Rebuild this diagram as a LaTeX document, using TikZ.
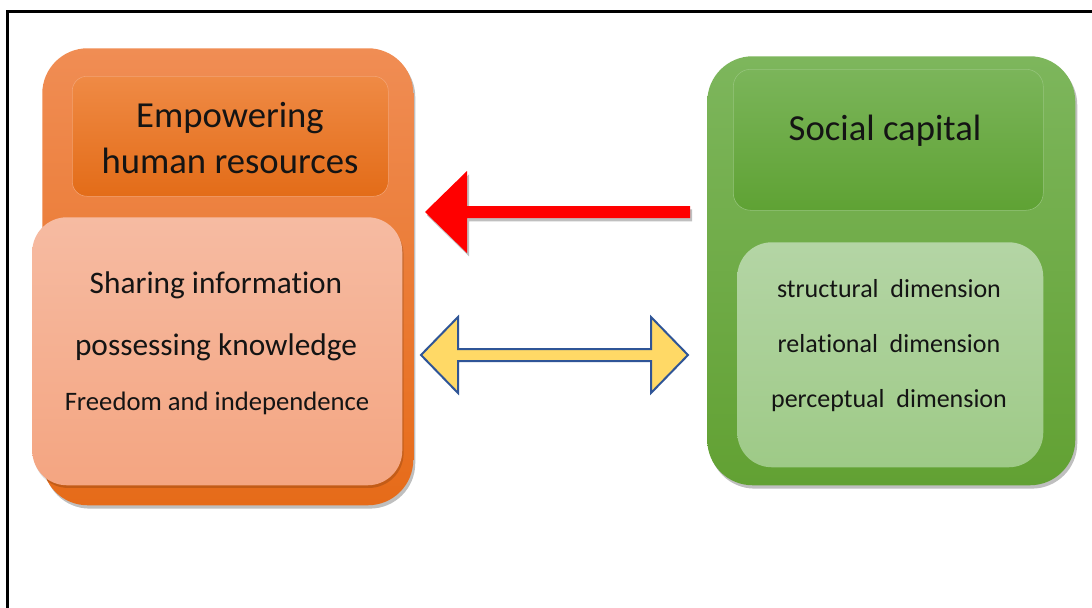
\documentclass[tikz,border=0pt]{standalone}
\usepackage{fontspec}
\setmainfont[Ligatures={NoCommon}]{Carlito}
\usetikzlibrary{calc,shadows}
\definecolor{oTop}{HTML}{F08D54}
\definecolor{oBot}{HTML}{E66B19}
\definecolor{otTop}{HTML}{EF8A45}
\definecolor{otBot}{HTML}{E36C18}
\definecolor{sTop}{HTML}{F6BBA2}
\definecolor{sBot}{HTML}{F4A581}
\definecolor{gTop}{HTML}{7DB65C}
\definecolor{gBot}{HTML}{62A133}
\definecolor{gtTop}{HTML}{7BB55A}
\definecolor{gtBot}{HTML}{5FA234}
\definecolor{glTop}{HTML}{B4D5A5}
\definecolor{glBot}{HTML}{9ECA87}
\definecolor{arrRed}{HTML}{FF0000}
\definecolor{arrYel}{HTML}{FFD966}
\definecolor{arrBlue}{HTML}{2F5597}
\definecolor{txtc}{HTML}{141414}
\tikzset{
  box/.style={rectangle, inner sep=0pt, anchor=north west},
  softshadow/.style={drop shadow={shadow xshift=1.5pt, shadow yshift=-2.5pt, opacity=0.25, fill=black}},
  lightshadow/.style={drop shadow={shadow xshift=1pt, shadow yshift=-2pt, opacity=0.15, fill=black}},
  txt/.style={anchor=base, inner sep=0pt, text=txtc},
  bigtxt/.style={txt, font=\fontsize{27.5pt}{32pt}\selectfont},
  midtxt/.style={txt, font=\fontsize{23.5pt}{28pt}\selectfont},
  smalltxt/.style={txt, font=\fontsize{19.5pt}{24pt}\selectfont},
  fredtxt/.style={txt, font=\fontsize{20pt}{24pt}\selectfont},
}
\begin{document}
\begin{tikzpicture}[x=0.75pt,y=-0.75pt]
\useasboundingbox (0,0) rectangle (1092,607);
\fill[white] (0,0) rectangle (1092,607);
% frame
\coordinate (fbl) at (7.5,620);
\coordinate (ftl) at (7.5,11.5);
\coordinate (ftr) at (1100,11.5);
\draw[line width=1.9pt, black] (fbl) -- (ftl) -- (ftr);

% orange group
\node[box, softshadow, rounded corners=34pt, minimum width=278.25pt, minimum height=342.75pt,
      top color=oTop, bottom color=oBot] (oOut) at (42,48) {};
\node[box, rounded corners=11pt, minimum width=237pt, minimum height=90pt,
      top color=otTop, bottom color=otBot, draw=oTop!80!white, line width=0.4pt] (oTitle) at (72,76) {};
\node[box, lightshadow, rounded corners=26pt, minimum width=277.5pt, minimum height=201pt,
      top color=sTop, bottom color=sBot] (oLow) at (32,217) {};

\node[bigtxt] (t1) at (230,127) {Empowering};
\node[bigtxt] (t2) at (230,173) {human resources};
\node[midtxt] (t3) at (216,293) {Sharing information};
\node[midtxt] (t4) at (216,355) {possessing knowledge};
\node[fredtxt] (t5) at (217,410) {Freedom and independence};

% green group
\node[box, softshadow, rounded corners=34pt, minimum width=276pt, minimum height=321.75pt,
      top color=gTop, bottom color=gBot] (gOut) at (707,56) {};
\node[box, rounded corners=13pt, minimum width=232.5pt, minimum height=105.75pt,
      top color=gtTop, bottom color=gtBot, draw=gTop!80!white, line width=0.4pt] (gTitle) at (733,69) {};
\node[box, rounded corners=26pt, minimum width=229.5pt, minimum height=168.75pt,
      top color=glTop, bottom color=glBot] (gLow) at (737,242) {};

\node[bigtxt] (g1) at (885,140) {Social capital};
\node[smalltxt] (g2) at (889,297) {structural\ \ dimension};
\node[smalltxt] (g3) at (889,352) {relational\ \ dimension};
\node[smalltxt] (g4) at (889,407) {perceptual\ \ dimension};

% red arrow (from social capital to empowering)
\coordinate (rtip) at (425,212);
\coordinate (rtail) at (690,212);
\fill[arrRed, softshadow]
  (rtip) -- ($(rtip)+(42,-41)$) -- ($(rtip)+(42,-6)$) -- ($(rtail)+(0,-6)$)
  -- ($(rtail)+(0,6)$) -- ($(rtip)+(42,6)$) -- ($(rtip)+(42,41)$) -- cycle;

% yellow double arrow
\coordinate (ytipL) at (421,355);
\coordinate (ytipR) at (688,355);
\draw[fill=arrYel, draw=arrBlue, line width=1.5pt, line join=miter]
  (ytipL) -- ($(ytipL)+(37,-38)$) -- ($(ytipL)+(37,-6)$) -- ($(ytipR)+(-37,-6)$)
  -- ($(ytipR)+(-37,-38)$) -- (ytipR) -- ($(ytipR)+(-37,38)$) -- ($(ytipR)+(-37,6)$)
  -- ($(ytipL)+(37,6)$) -- ($(ytipL)+(37,38)$) -- cycle;
\end{tikzpicture}
\end{document}
